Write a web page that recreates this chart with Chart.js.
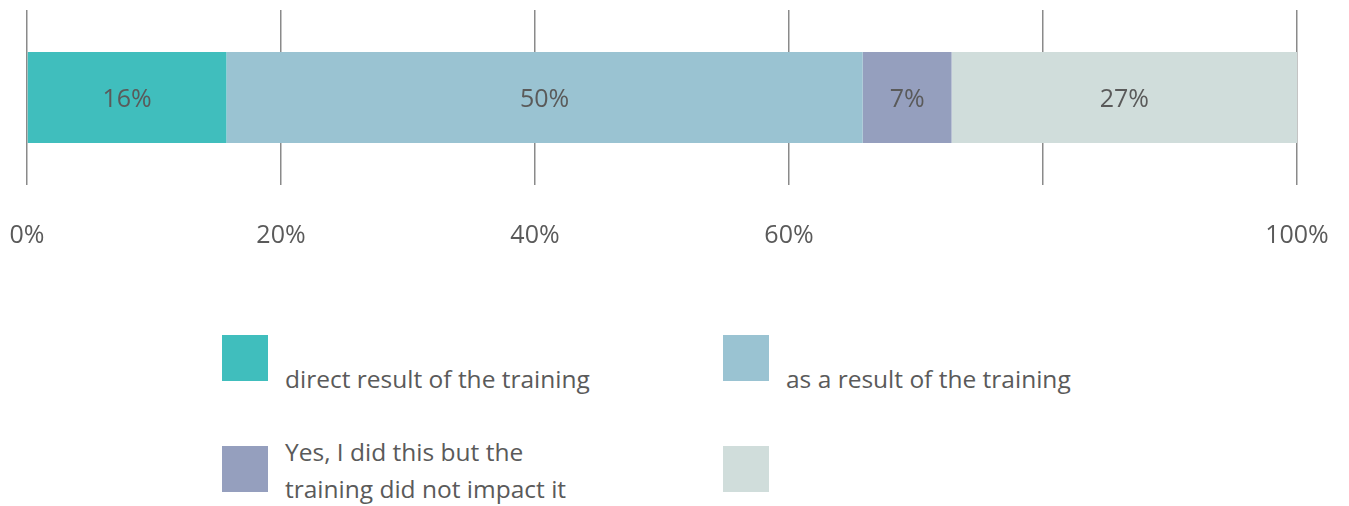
<!DOCTYPE html>
<html>
<head>
<meta charset="utf-8">
<script src="https://cdn.jsdelivr.net/npm/chart.js@4/dist/chart.umd.min.js"></script>
<style>
  html, body { margin: 0; padding: 0; background: #fff; }
  body { width: 1349px; height: 506px; position: relative; overflow: hidden; font-family: "Open Sans", sans-serif; }
  #chartBox { position: absolute; left: 0; top: 0; width: 1349px; height: 287px; }
  .legend-swatch { position: absolute; width: 46px; height: 46px; }
  .legend-text { position: absolute; color: #5a5a5a; font-size: 24.5px; line-height: 37px; white-space: nowrap; }
</style>
</head>
<body>
<div id="chartBox"><canvas id="barChart"></canvas></div>
<div id="legend"></div>
<script>
const categories = ["Responses"];
const seriesLabels = [
  "direct result of the training",
  "as a result of the training",
  "Yes, I did this but the\ntraining did not impact it",
  ""
];
const seriesValues = [15.7, 50.1, 7.0, 27.2];
const shownPercents = ["16%", "50%", "7%", "27%"];
const tickValues = [0, 20, 40, 60, 80, 100];
const tickLabels = ["0%", "20%", "40%", "60%", "", "100%"];
const colors = ["#40bebd", "#9ac3d2", "#959fbe", "#d0dddb"];

const datasets = seriesValues.map((v, i) => ({
  label: seriesLabels[i],
  data: [v],
  backgroundColor: colors[i],
  borderWidth: 0,
  barPercentage: 1,
  categoryPercentage: 0.52
}));

const segmentLabels = {
  id: "segmentLabels",
  afterDatasetsDraw(chart) {
    const c = chart.ctx;
    c.save();
    c.font = "25px 'Open Sans', sans-serif";
    c.fillStyle = "#5a5a5a";
    c.textAlign = "center";
    c.textBaseline = "middle";
    chart.data.datasets.forEach((ds, i) => {
      const bar = chart.getDatasetMeta(i).data[0];
      c.fillText(shownPercents[i], (bar.base + bar.x) / 2, bar.y + 2);
    });
    c.restore();
  }
};

new Chart(document.getElementById("barChart"), {
  type: "bar",
  data: { labels: categories, datasets: datasets },
  plugins: [segmentLabels],
  options: {
    indexAxis: "y",
    responsive: true,
    maintainAspectRatio: false,
    animation: false,
    layout: { padding: { left: 27, right: 52, top: 10, bottom: 0 } },
    plugins: { legend: { display: false }, tooltip: { enabled: false } },
    scales: {
      x: {
        stacked: true,
        min: 0,
        max: 100,
        afterBuildTicks(axis) { axis.ticks = tickValues.map(v => ({ value: v })); },
        // the tick padding would otherwise widen the side margins too
        afterFit(axis) { axis.paddingLeft = 0; axis.paddingRight = 0; },
        ticks: {
          padding: 36,
          color: "#5a5a5a",
          font: { family: "'Open Sans', sans-serif", size: 25 },
          maxRotation: 0,
          autoSkip: false,
          callback: function (value) { return tickLabels[tickValues.indexOf(value)]; }
        },
        grid: { color: "#8a8a8a", lineWidth: 1.5, drawTicks: false },
        border: { display: false }
      },
      y: {
        stacked: true,
        display: false
      }
    }
  }
});

// legend in a 2x2 grid below the chart
const legendPos = [[222, 335], [723, 335], [222, 446], [723, 446]];
const legendTextTop = [360, 360, 433, 433];
const legend = document.getElementById("legend");
seriesLabels.forEach((lab, i) => {
  const sw = document.createElement("div");
  sw.className = "legend-swatch";
  sw.style.left = legendPos[i][0] + "px";
  sw.style.top = legendPos[i][1] + "px";
  sw.style.background = colors[i];
  legend.appendChild(sw);
  const tx = document.createElement("div");
  tx.className = "legend-text";
  tx.style.left = (legendPos[i][0] + 63) + "px";
  tx.style.top = legendTextTop[i] + "px";
  tx.innerHTML = lab.split("\n").join("<br>");
  legend.appendChild(tx);
});
</script>
</body>
</html>
